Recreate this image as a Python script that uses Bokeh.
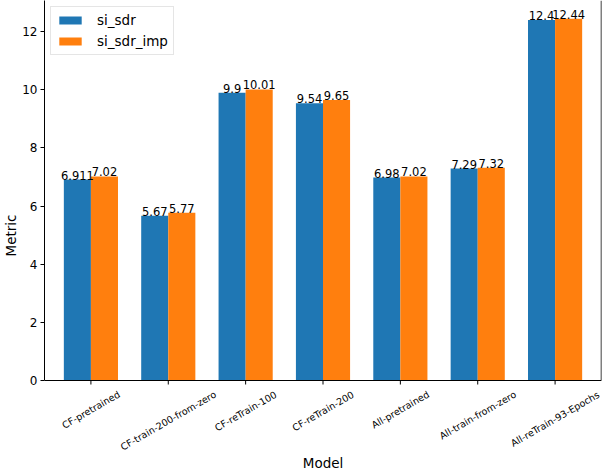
import math
import numpy as np
from bokeh.plotting import figure
from bokeh.models import (ColumnDataSource, LabelSet, Label, Legend, LegendItem,
                          FixedTicker, Span, Range1d)
from bokeh.core.properties import value
from bokeh.embed import file_html
from bokeh.resources import INLINE

# ---- data ----
models = ["CF-pretrained", "CF-train-200-from-zero", "CF-reTrain-100", "CF-reTrain-200",
          "All-pretrained", "All-train-from-zero", "All-reTrain-93-Epochs"]
si_sdr = [6.911, 5.67, 9.9, 9.54, 6.98, 7.29, 12.4]
si_sdr_imp = [7.02, 5.77, 10.01, 9.65, 7.02, 7.32, 12.44]
series_names = ["si_sdr", "si_sdr_imp"]
series_colors = ["#1f77b4", "#ff7f0e"]
y_ticks = [0, 2, 4, 6, 8, 10, 12]
x_title = "Model"
y_title = "Metric"

FONT = "DejaVu Sans"
BAR_W = 0.35
XMIN, XMAX = -0.6, 6.6
YMAX = 13.07
W_PX, H = 602, 470
ZERO_PX = 380            # pixel row (from top of canvas) of y = 0
SCALE = ZERO_PX / YMAX   # px per unit
YMIN = -(H - ZERO_PX) / SCALE
TICK_PX = 4

p = figure(width=W_PX, height=H, output_backend="svg", toolbar_location=None,
           x_range=Range1d(XMIN, XMAX), y_range=Range1d(YMIN, YMAX),
           min_border_left=43, min_border_right=1, min_border_top=0, min_border_bottom=0)
p.background_fill_color = "white"
p.border_fill_color = "white"
p.outline_line_color = None
p.xgrid.visible = False
p.ygrid.visible = False
p.xaxis.visible = False

idx = np.arange(len(models))
renderers = []
for k, (vals, color) in enumerate(zip([si_sdr, si_sdr_imp], series_colors)):
    xs = idx + (k - 0.5) * BAR_W
    src = ColumnDataSource(dict(x=xs, top=vals, label=[f"{v:g}" for v in vals]))
    r = p.vbar(x="x", top="top", bottom=0, width=BAR_W, source=src,
               fill_color=color, line_color=None)
    renderers.append(r)
    p.add_layout(LabelSet(x="x", y="top", text="label", source=src,
                          text_align="center", text_baseline="bottom",
                          text_font=value(FONT), text_font_size="11.5px", text_color="black"))

# spines: bottom and right
p.add_layout(Span(location=0, dimension="width", line_color="black", line_width=1))
p.segment(x0=[XMAX], y0=[0], x1=[XMAX], y1=[YMAX], line_color="black", line_width=1.5)
# x tick marks
p.segment(x0=idx, y0=0, x1=idx, y1=-TICK_PX / SCALE, line_color="black", line_width=1)

# y axis
ax = p.yaxis[0]
ax.bounds = (0, YMAX)
ax.axis_line_color = "black"
ax.major_tick_line_color = "black"
ax.major_tick_out = TICK_PX
ax.major_tick_in = 0
ax.minor_tick_line_color = None
ax.ticker = FixedTicker(ticks=y_ticks)
ax.major_label_text_font = FONT
ax.major_label_text_color = "black"
ax.major_label_text_font_size = "12px"
ax.major_label_standoff = 3
ax.axis_label = y_title
ax.axis_label_text_font = FONT
ax.axis_label_text_font_style = "normal"
ax.axis_label_text_font_size = "13.5px"
ax.axis_label_text_color = "black"
ax.axis_label_standoff = 0

# rotated, centred category labels (matplotlib-like placement)
W = {'C': .698, 'F': .575, '-': .361, 'p': .635, 'r': .411, 'e': .615, 't': .392, 'a': .613,
     'i': .278, 'n': .634, 'd': .635, 'm': .974, 'o': .612, 'z': .525, 'T': .611, 'A': .684,
     'l': .278, 'E': .632, 'c': .550, 'h': .634, 's': .521, 'f': .352}
FS = 9.5
ang = math.radians(30)
for i, name in enumerate(models):
    L = sum(W.get(ch, .636) for ch in name) * FS
    h = 1.164 * FS
    bbox_h = L * math.sin(ang) + h * math.cos(ang)
    p.add_layout(Label(x=int(i), y=0, y_offset=-(8 + bbox_h / 2), text=name, angle=ang,
                       text_align="center", text_baseline="middle",
                       text_font=FONT, text_font_size=f"{FS}px", text_color="black"))

p.add_layout(Label(x=(XMIN + XMAX) / 2, y=0, y_offset=-82, text=x_title,
                   text_align="center", text_baseline="middle",
                   text_font=FONT, text_font_size="13.5px", text_color="black"))

legend = Legend(items=[LegendItem(label=n, renderers=[r]) for n, r in zip(series_names, renderers)],
                location="top_left")
legend.margin = 6
legend.padding = 5
legend.spacing = 5
legend.label_height = 16
legend.glyph_height = 10
legend.glyph_width = 28
legend.label_standoff = 13
legend.label_text_font = FONT
legend.label_text_font_size = "13.5px"
legend.label_text_color = "black"
legend.border_line_color = "#cccccc"
legend.background_fill_alpha = 0.8
p.add_layout(legend)

open("out.html", "w").write(file_html(p, INLINE))
